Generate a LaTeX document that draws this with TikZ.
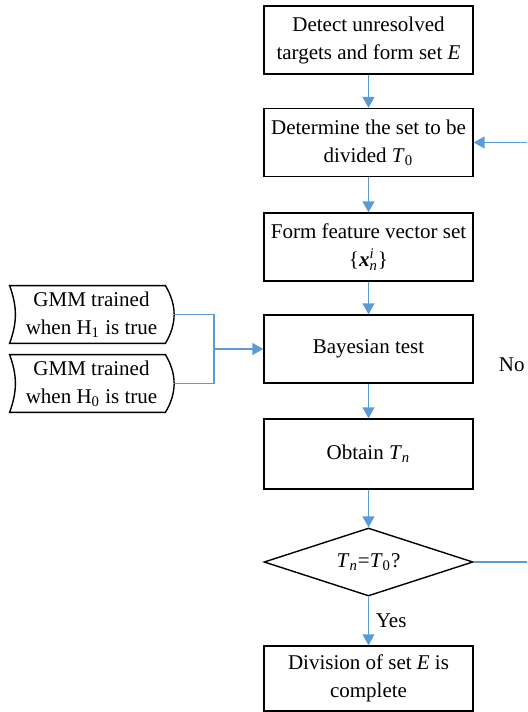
\documentclass[tikz,border=0pt]{standalone}
\usepackage{fontspec}
\setmainfont{Liberation Serif}
\usetikzlibrary{graphs,shapes.geometric,arrows.meta}
\definecolor{flowblue}{RGB}{91,155,213}
\tikzset{
    stepbox/.style={
        draw,
        line width=0.7pt,
        align=center,
        inner sep=0,
        minimum width=104.5pt,
        minimum height=34pt,
    },
    testbox/.style={
        draw,
        diamond,
        aspect=3,
        line width=0.7pt,
        inner sep=1pt,
        minimum width=104.5pt,
        minimum height=34pt,
    },
    gmmbox/.style={
        align=center,
        inner sep=0,
        minimum width=81.5pt,
        minimum height=28.5pt,
    },
    flowline/.style={
        draw=flowblue,
        line width=0.75pt,
    },
}

\begin{document}
\begin{tikzpicture}[x=0.5pt, y=-0.5pt, font=\fontsize{10.5}{14}\selectfont,
        >={Triangle[length=5.5pt,width=6pt]}]
            \useasboundingbox (0, 0) rectangle (527, 712);
            \clip (0, 0) rectangle (527, 712);

            \node[stepbox] at (368.5, 40)    (detect)  {Detect unresolved\\targets and form set \textit{E}};
            \node[stepbox] at (368.5, 142.5) (divide)  {Determine the set to be\\divided \textit{T}\textsubscript{0}};
            \node[stepbox] at (368.5, 247)   (feature) {Form feature vector set\\\{\textbf{\textit{x}}\rlap{\textsuperscript{\textit{i}}}\textsubscript{\textit{n}}\}};
            \node[stepbox] at (368.5, 349)   (bayes)   {Bayesian test};
            \node[stepbox, minimum height=35pt] at (368.5, 454) (obtain) {Obtain \textit{T}\textsubscript{\textit{n}}};
            \node[testbox] at (368.5, 562)   (check)   {\textit{T}\textsubscript{\textit{n}}=\textit{T}\textsubscript{0}?};
            \node[stepbox, minimum height=32.5pt] at (368.5, 678.5) (done) {Division of set \textit{E} is\\complete};

            \node[gmmbox] at (91.5, 314.5) (gmmone)  {GMM trained\\when H\textsubscript{1} is true};
            \node[gmmbox] at (91.5, 383.5) (gmmzero) {GMM trained\\when H\textsubscript{0} is true};
            \foreach \g in {gmmone, gmmzero}
                \draw[line width=0.7pt] (\g.north west) -- ([xshift=-4pt]\g.north east)
                    to[bend left=31] ([xshift=-4pt]\g.south east) -- (\g.south west)
                    to[bend right=20] (\g.north west) -- cycle;

            \coordinate (join) at (214, 349);
            \coordinate (back) at (532, 562);

            \graph[use existing nodes, edges={flowline}]{
                detect -> divide -> feature -> bayes -> obtain -> check ->[edge label=Yes] done;
            };
            \draw[flowline] (gmmone.east) -| (join);
            \draw[flowline] (gmmzero.east) -| (join);
            \draw[flowline, ->] (join) -- (bayes.west);
            \draw[flowline, ->] (check.east) -- (back) |- node[pos=0.235, left] (no) {No} (divide.east);
        \end{tikzpicture}
\end{document}
